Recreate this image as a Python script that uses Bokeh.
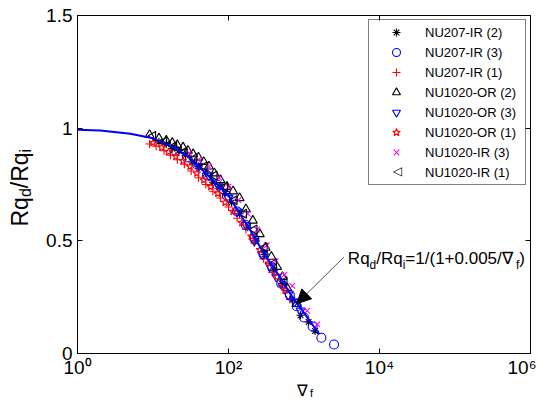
import numpy as np
from bokeh.plotting import figure
from bokeh.layouts import row, column
from bokeh.models import (FixedTicker, LinearAxis, LogAxis, Range1d, Legend, LegendItem,
                          Label, Arrow, NormalHead, CustomJSTickFormatter, NumeralTickFormatter)
from bokeh.embed import file_html
from bokeh.resources import INLINE

# ---- fitted curve ----
curve_x = [1, 2, 5, 10, 20, 30, 50, 100, 200, 300, 500, 700, 1000, 1600]
curve_y = [0.993, 0.99, 0.975, 0.955, 0.91, 0.87, 0.80, 0.70, 0.54, 0.44, 0.33, 0.25, 0.18, 0.085]

# ---- measured series ----
nu207_ir2_x = [12, 15, 18, 22, 27, 33, 40, 50, 62, 75, 90, 110, 140, 180, 230, 300, 400, 520, 700, 900, 1150, 1400]
nu207_ir2_y = [0.94, 0.93, 0.91, 0.90, 0.88, 0.85, 0.83, 0.80, 0.76, 0.74, 0.71, 0.67, 0.62, 0.56, 0.50, 0.44, 0.37, 0.31, 0.24, 0.17, 0.14, 0.10]

nu207_ir3_x = [20, 28, 38, 52, 70, 95, 130, 170, 220, 290, 380, 500, 650, 800, 1000, 1300, 1700, 2500]
nu207_ir3_y = [0.90, 0.87, 0.84, 0.79, 0.75, 0.70, 0.63, 0.57, 0.51, 0.44, 0.38, 0.31, 0.26, 0.21, 0.16, 0.12, 0.07, 0.04]

nu207_ir1_x = [9, 11, 14, 17, 21, 26, 32, 40, 50, 62, 78, 100, 130, 170, 220, 290, 380, 500, 650]
nu207_ir1_y = [0.93, 0.92, 0.90, 0.88, 0.86, 0.84, 0.81, 0.78, 0.75, 0.72, 0.69, 0.65, 0.60, 0.55, 0.49, 0.42, 0.36, 0.30, 0.24]

nu1020_or2_x = [9, 12, 15, 18, 21, 25, 29, 34, 40, 47, 55, 65, 78, 95, 115, 140, 170, 210, 260, 310, 370, 440, 520, 600, 800]
nu1020_or2_y = [0.97, 0.955, 0.945, 0.935, 0.925, 0.915, 0.90, 0.885, 0.87, 0.85, 0.83, 0.80, 0.77, 0.74, 0.72, 0.69, 0.64, 0.59, 0.53, 0.47, 0.43, 0.385, 0.34, 0.29, 0.22]

nu1020_or3_x = [40, 55, 75, 100, 130, 170, 220, 280, 350, 430, 520, 620, 750, 900]
nu1020_or3_y = [0.83, 0.79, 0.74, 0.69, 0.63, 0.57, 0.50, 0.44, 0.39, 0.34, 0.30, 0.26, 0.23, 0.19]

nu1020_or1_x = [10, 13, 16, 20, 25, 31, 38, 47, 58, 72, 90, 115, 150, 200, 260, 340, 440, 560]
nu1020_or1_y = [0.935, 0.915, 0.895, 0.875, 0.855, 0.83, 0.80, 0.77, 0.74, 0.71, 0.67, 0.63, 0.58, 0.52, 0.46, 0.40, 0.34, 0.28]

nu1020_ir3_x = [30, 40, 55, 75, 100, 135, 180, 240, 320, 420, 550, 700, 1100, 1500]
nu1020_ir3_y = [0.89, 0.86, 0.83, 0.78, 0.74, 0.68, 0.62, 0.55, 0.48, 0.41, 0.35, 0.30, 0.19, 0.13]

nu1020_ir1_x = [10, 14, 19, 26, 35, 48, 65, 90, 120, 160, 220, 300, 400, 550]
nu1020_ir1_y = [0.965, 0.94, 0.92, 0.895, 0.865, 0.83, 0.79, 0.74, 0.68, 0.62, 0.55, 0.47, 0.40, 0.32]

series_labels = ["NU207-IR (2)", "NU207-IR (3)", "NU207-IR (1)", "NU1020-OR (2)",
                 "NU1020-OR (3)", "NU1020-OR (1)", "NU1020-IR (3)", "NU1020-IR (1)"]

x_ticks = [1, 100, 10000, 1000000]
y_ticks = [0, 0.5, 1, 1.5]

FONT = "Liberation Sans"

# ---- layout sizes ----
YLAB_W = 36
MAIN_W, MAIN_H = 536 - YLAB_W, 380
XLAB_H = 404 - MAIN_H
BORDER_L, BORDER_R, BORDER_T, BORDER_B = 77 - YLAB_W, 6, 15, 25

p = figure(width=MAIN_W, height=MAIN_H, x_axis_type="log", title=None,
           x_range=Range1d(1, 1e6), y_range=Range1d(0, 1.5),
           output_backend="svg", toolbar_location=None,
           min_border_left=BORDER_L, min_border_right=BORDER_R,
           min_border_top=BORDER_T, min_border_bottom=BORDER_B)
p.grid.visible = False
p.outline_line_color = "black"
p.background_fill_color = "white"
p.border_fill_color = "white"

sup_code = """
const e = Math.round(Math.log10(tick));
const s = {"0":"\u2070","1":"\u00b9","2":"\u00b2","3":"\u00b3","4":"\u2074","5":"\u2075","6":"\u2076"};
return "10" + s[String(e)];
"""

def style_axis(ax, show_labels=True):
    ax.axis_line_color = "black"
    ax.major_tick_line_color = "black"
    ax.major_tick_in = 5
    ax.major_tick_out = 0
    ax.minor_tick_in = 0
    ax.minor_tick_out = 0
    ax.axis_label_standoff = 0
    ax.major_label_text_font = FONT
    ax.major_label_text_font_size = "19px" if show_labels else "0px"
    ax.major_label_text_color = "black" if show_labels else None

xa = p.xaxis[0]
xa.ticker = FixedTicker(ticks=x_ticks, minor_ticks=[])
xa.formatter = CustomJSTickFormatter(code=sup_code)
style_axis(xa)
xa.major_label_standoff = 3

ya = p.yaxis[0]
ya.ticker = FixedTicker(ticks=y_ticks, minor_ticks=[])
ya.formatter = NumeralTickFormatter(format="0.[0]")
style_axis(ya)
ya.major_label_standoff = 5

top = LogAxis(ticker=FixedTicker(ticks=x_ticks, minor_ticks=[]), major_label_standoff=0)
style_axis(top, False)
p.add_layout(top, "above")
right = LinearAxis(ticker=FixedTicker(ticks=y_ticks, minor_ticks=[]), major_label_standoff=0)
style_axis(right, False)
p.add_layout(right, "right")

# ---- scatter series ----
specs = [
    (nu207_ir2_x, nu207_ir2_y, "asterisk", "#000000", 0),
    (nu207_ir3_x, nu207_ir3_y, "circle", "#0000ff", 0),
    (nu207_ir1_x, nu207_ir1_y, "cross", "#ff0000", 0),
    (nu1020_or2_x, nu1020_or2_y, "triangle", "#000000", 0),
    (nu1020_or3_x, nu1020_or3_y, "inverted_triangle", "#0000ff", 0),
    (nu1020_or1_x, nu1020_or1_y, "star", "#ff0000", 0),
    (nu1020_ir3_x, nu1020_ir3_y, "x", "#ff00ff", 0),
    (nu1020_ir1_x, nu1020_ir1_y, "triangle", "#000000", 90),
]
renderers = []
for xs, ys, mk, col, ang in specs:
    sz = 9 if mk in ("triangle", "inverted_triangle", "circle") else 8
    r = p.scatter(xs, ys, marker=mk, size=sz, angle=ang, angle_units="deg",
                  line_color=col, fill_color=None, line_width=1.1)
    renderers.append(r)

p.line(curve_x, curve_y, line_color="#0000ff", line_width=2)

# legend: the left-pointing triangle is drawn as a text glyph because legend glyphs ignore angle
LEG_W, LEG_MARGIN = 156, 4
legend_renderers = renderers[:7] + [p.scatter([], [], marker="triangle", line_alpha=0, fill_alpha=0)]
legend = Legend(items=[LegendItem(label=l, renderers=[r]) for l, r in zip(series_labels, legend_renderers)],
                location="top_right", margin=LEG_MARGIN, padding=2, spacing=0,
                glyph_width=50, glyph_height=20, label_height=20, label_width=98,
                label_standoff=4, border_line_color="black", border_line_width=1,
                background_fill_color="white", background_fill_alpha=0,
                label_text_font=FONT, label_text_font_size="13px", label_text_color="black")
p.add_layout(legend)

# position of legend row 8 glyph, converted to data units
frame_w = MAIN_W - BORDER_L - BORDER_R
frame_h = MAIN_H - BORDER_T - BORDER_B
gx = frame_w - LEG_MARGIN - LEG_W + 2 + 25
gy = LEG_MARGIN + 2 + 7 * 20 + 10
glyph_x = 10 ** (6.0 * gx / frame_w)
glyph_y = 1.5 * (1 - gy / frame_h)
p.add_layout(Label(x=glyph_x, y=glyph_y, text="\u25c1", text_font="DejaVu Sans",
                   text_font_size="12px", text_color="black",
                   text_align="center", text_baseline="middle"))

# ---- text helpers (Arial metrics) ----
W = {"R": 722, "q": 556, "d": 556, "/": 278, "i": 222, "=": 584, "1": 556, "(": 333, ")": 333,
     "+": 584, "0": 556, ".": 278, "5": 556, "f": 278, "\u2207": 838}

def tw(s, size):
    return sum(W.get(c, 556) for c in s) * size / 1000.0

def rich(fig, x, y, pieces, size, sub_size, sub_drop, angle=0.0, units="data"):
    pos = 0.0
    for txt, is_sub in pieces:
        fs = sub_size if is_sub else size
        if angle == 0:
            xo, yo = pos, (-sub_drop if is_sub else 0)
        else:
            xo, yo = (sub_drop if is_sub else 0), pos
        fig.add_layout(Label(x=x, y=y, x_units=units, y_units=units, x_offset=xo, y_offset=yo,
                             text=txt, angle=angle,
                             text_font=FONT, text_font_size=f"{fs}px", text_color="black",
                             text_align="left", text_baseline="alphabetic"))
        pos += tw(txt, fs)

# annotation with arrow
ann_x, ann_y = 3810, 0.42
rich(p, ann_x, ann_y, [("Rq", False), ("d", True), ("/Rq", False), ("i", True),
                       ("=1/(1+0.005/\u2207", False), ("f", True), (")", False)], 17, 12, 6)
p.add_layout(Arrow(x_start=3380, y_start=0.428, x_end=801, y_end=0.221,
                   line_color="#555555", line_width=1,
                   end=NormalHead(size=14, fill_color="black", line_color="black")))

# ---- axis titles in their own small canvases ----
def blank(w, h):
    f = figure(width=w, height=h, x_range=Range1d(0, 1), y_range=Range1d(0, 1), title=None,
               output_backend="svg", toolbar_location=None,
               x_axis_location=None, y_axis_location=None,
               min_border=0, min_border_left=0, min_border_right=0,
               min_border_top=0, min_border_bottom=0)
    f.grid.visible = False
    f.outline_line_color = None
    f.background_fill_color = "white"
    f.border_fill_color = "white"
    return f

yfig = blank(YLAB_W, 404)
rich(yfig, 19, 226, [("Rq", False), ("d", True), ("/Rq", False), ("i", True)], 23, 16, 6,
     angle=np.pi / 2, units="canvas")

xfig = blank(MAIN_W, XLAB_H)
rich(xfig, 296 - YLAB_W, 10, [("\u2207", False), ("f", True)], 16, 11, 2, units="canvas")

layout = row(yfig, column(p, xfig, spacing=0), spacing=0)

open("out.html", "w").write(file_html(layout, INLINE))
